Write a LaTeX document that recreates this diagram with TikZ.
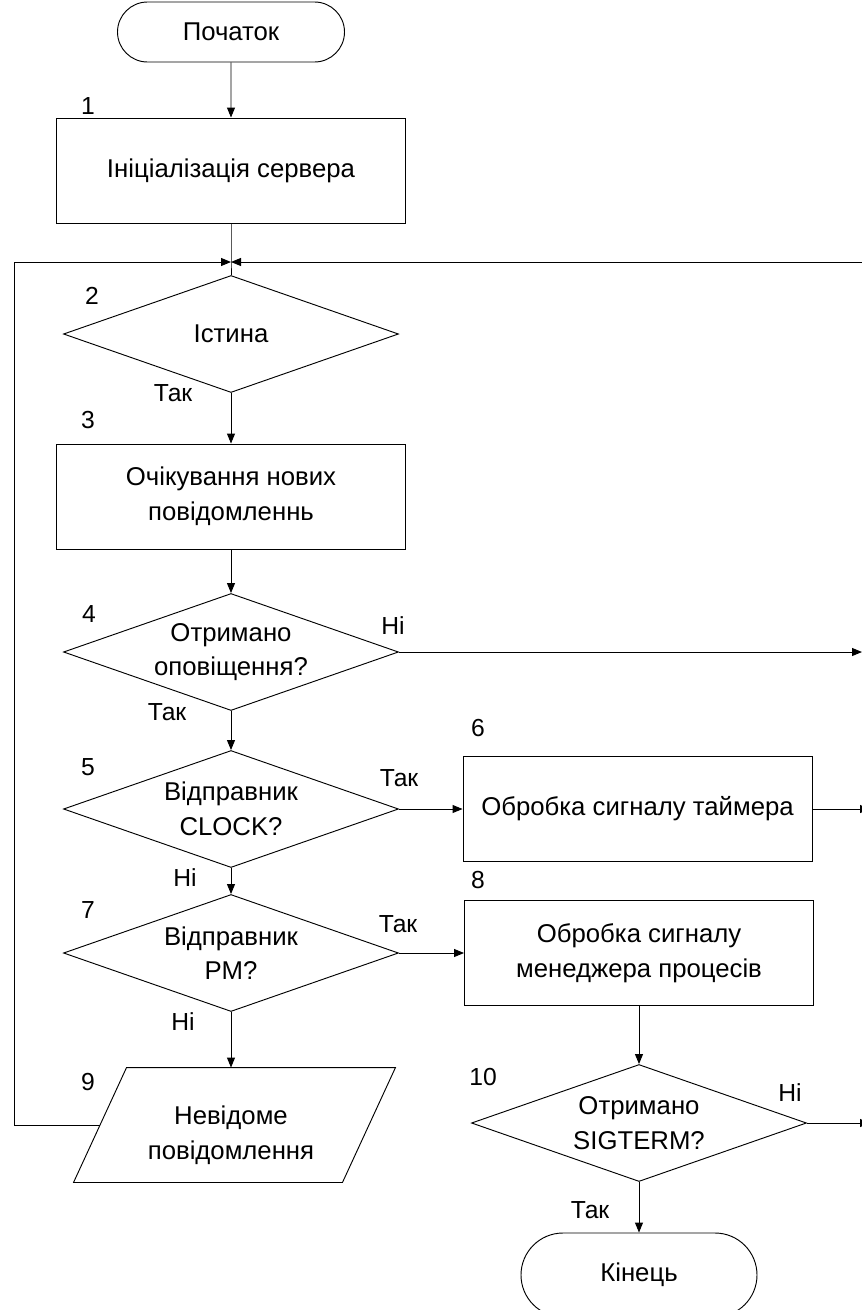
\documentclass[tikz,border=0pt]{standalone}
\usepackage{fontspec}
\setmainfont{Liberation Sans}
\usetikzlibrary{arrows.meta,shapes.geometric,shapes.misc}

\begin{document}
\begin{tikzpicture}[x=0.75pt, y=-0.75pt, line width=0.7pt,
  font=\fontsize{19.3}{26}\selectfont,
  box/.style={draw, align=center, inner sep=0pt, minimum width=261.75pt, minimum height=78.75pt},
  cond/.style={draw, diamond, aspect=2.86, align=center, inner sep=0pt, minimum width=251.25pt, minimum height=87.75pt},
  term/.style={draw, rounded rectangle, inner sep=0pt, minimum width=#1},
  io/.style={inner sep=0pt, minimum width=201pt, minimum height=85.5pt},
  lbl/.style={font=\fontsize{18.5}{22}\selectfont, inner sep=0pt},
  arr/.style={-{Triangle[length=7.5pt, width=6pt]}}]
\useasboundingbox (0,0) rectangle (861,1310);
% blocks
\node[term=170.25pt, minimum height=45pt] (start) at (231,32) {Початок};
\node[box] (init) at (231,170.5) {Ініціалізація сервера};
\node[cond] (loop) at (231,334) {Істина};
\node[box] (wait) at (231,496.5) {Очікування нових\\повідомленнь};
\node[cond] (notif) at (231,652) {Отримано\\оповіщення?};
\node[cond] (clock) at (231,809) {Відправник\\CLOCK?};
\node[box] (timer) at (637.5,809) {Обробка сигналу таймера};
\node[cond] (pm) at (231,953) {Відправник\\PM?};
\node[box] (pmproc) at (639,953) {Обробка сигналу\\менеджера процесів};
\node[io] (unknown) at (234.5,1125) {};
\draw ([shift={(26.5,0)}]unknown.north west) -- ([shift={(26.5,0)}]unknown.north east)
  -- ([shift={(-26.5,0)}]unknown.south east) -- ([shift={(-26.5,0)}]unknown.south west) -- cycle;
\node[align=center, inner sep=0pt] (unknowntxt) at (231,1135) {Невідоме\\повідомлення};
\node[cond] (sigterm) at (639,1123) {Отримано\\SIGTERM?};
\node[term=177pt, minimum height=63pt] (stop) at (639,1275) {Кінець};
% numbers
\node[lbl] (n1) at (88,106) {1};
\node[lbl] (n2) at (92,296) {2};
\node[lbl] (n3) at (88,420) {3};
\node[lbl] (n4) at (89,614) {4};
\node[lbl] (n5) at (88,767) {5};
\node[lbl] (n6) at (478,728) {6};
\node[lbl] (n7) at (88,910) {7};
\node[lbl] (n8) at (478,880) {8};
\node[lbl] (n9) at (88,1082) {9};
\node[lbl] (n10) at (483,1077) {10};
% branch labels
\node[lbl] (y2) at (173,393) {Так};
\node[lbl] (y4) at (167,712) {Так};
\node[lbl] (no4) at (393,626) {Ні};
\node[lbl] (y5) at (399,778) {Так};
\node[lbl] (no5) at (185,878) {Ні};
\node[lbl] (y7) at (398,924) {Так};
\node[lbl] (no7) at (183,1022) {Ні};
\node[lbl] (no10) at (790,1093) {Ні};
\node[lbl] (y10) at (590,1210) {Так};
% free ends
\coordinate (join) at (231,262);
\coordinate (lft) at (14,262);
\coordinate (rtop) at (875,262);
\coordinate (rnotif) at (862,652);
\coordinate (rtimer) at (870,809);
\coordinate (rsig) at (870,1123);
% connectors
\draw[arr] (start) -- (init);
\draw (init) -- (join) -- (loop);
\draw[arr] (unknown.west) -| (lft) -- (join);
\draw[arr] (rtop) -- (join);
\draw[arr] (loop) -- (wait);
\draw[arr] (wait) -- (notif);
\draw[arr] (notif.east) -- (rnotif);
\draw[arr] (notif) -- (clock);
\draw[arr] (clock.east) -- (timer);
\draw[arr] (clock) -- (pm);
\draw[arr] (timer) -- (rtimer);
\draw[arr] (pm.east) -- (pmproc);
\draw[arr] (pm) -- (pm |- unknown.north);
\draw[arr] (pmproc) -- (sigterm);
\draw[arr] (sigterm.east) -- (rsig);
\draw[arr] (sigterm) -- (stop);
\end{tikzpicture}
\end{document}
